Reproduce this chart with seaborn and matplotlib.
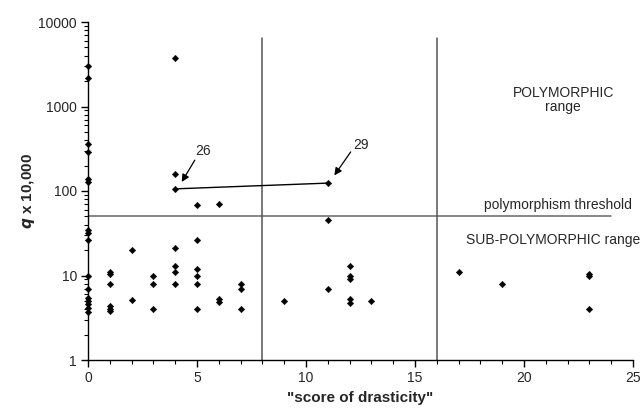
import matplotlib
matplotlib.use("Agg")
import matplotlib.pyplot as plt
import seaborn as sns
import pandas as pd
from matplotlib.ticker import FixedLocator, NullFormatter, LogLocator

sns.set_theme(style="white")
plt.rcParams['font.family'] = ['Liberation Sans', 'DejaVu Sans']

score = [0]*16 + [1]*6 + [2]*2 + [3]*3 + [4]*7 + [5]*6 + [6]*3 + [7]*3 + [9] + [11]*3 + [12]*5 + [13] + [17] + [19] + [23]*3
q = [3000, 2200, 360, 290, 139, 129, 35, 32, 26.5, 10, 7, 5.4, 5, 4.6, 4.1, 3.7,
     11, 10.3, 8, 4.3, 4, 3.8,
     20, 5.1,
     10, 8, 4,
     3800, 158, 106, 21, 13, 11, 8,
     68, 26, 12, 10, 8, 4,
     70, 5.2, 4.85,
     8, 7, 4,
     5,
     124, 45, 7,
     13, 10, 9.1, 5.3, 4.7,
     5,
     11,
     8,
     10.4, 10, 4]

link_x = [4, 11]
link_y = [106, 124]
threshold = 50
range_bounds = [8, 16]

df = pd.DataFrame({"score": score, "q": q})

fig = plt.figure(figsize=(6.4, 4.17), dpi=100)
ax = fig.add_axes([88/640, 1-360/417, (633-88)/640, (360-22)/417])

ax.set_yscale("log")
ax.set_xlim(0, 25)
ax.set_ylim(1, 10000)

# reference lines
ax.plot([0, 24], [threshold, threshold], color="#666666", lw=1.1, zorder=1)
for b in range_bounds:
    ax.plot([b, b], [1, 6500], color="#555555", lw=1.1, zorder=1)
ax.plot(link_x, link_y, color="black", lw=1.0, zorder=2)

sns.scatterplot(data=df, x="score", y="q", marker="D", s=11, color="black",
                edgecolor="black", linewidth=0.3, ax=ax, zorder=3, clip_on=False)

# annotations
arrow_kw = dict(arrowstyle="-|>", color="black", lw=0.9, shrinkA=0, shrinkB=0, mutation_scale=11)
ax.annotate("", xy=(4.3, 128), xytext=(4.9, 232), arrowprops=arrow_kw)
ax.annotate("", xy=(11.3, 153), xytext=(12.05, 290), arrowprops=arrow_kw)
ax.text(5.3, 296, "26", fontsize=10, ha="center", va="center")
ax.text(12.5, 353, "29", fontsize=10, ha="center", va="center")

ax.text(21.8, 1200, "POLYMORPHIC\nrange", ha="center", va="center", fontsize=10, linespacing=1.0)
ax.text(21.55, 68, "polymorphism threshold", ha="center", va="center", fontsize=10)
ax.text(21.35, 26.3, "SUB-POLYMORPHIC range", ha="center", va="center", fontsize=10, clip_on=False)

# axes styling
for side in ["top", "right"]:
    ax.spines[side].set_visible(False)
for side in ["left", "bottom"]:
    ax.spines[side].set_color("black")
    ax.spines[side].set_linewidth(1.0)

ax.set_xticks([0, 5, 10, 15, 20, 25])
ax.xaxis.set_minor_locator(FixedLocator(list(range(26))))
ax.set_yticks([1, 10, 100, 1000, 10000])
ax.set_yticklabels(["1", "10", "100", "1000", "10000"])
ax.yaxis.set_minor_locator(LogLocator(base=10, subs=range(2, 10)))
ax.yaxis.set_minor_formatter(NullFormatter())
ax.tick_params(axis="both", which="major", direction="out", length=5, width=1, color="black",
               labelsize=10, bottom=True, left=True, pad=3)
ax.tick_params(axis="both", which="minor", direction="out", length=3, width=0.8, color="black",
               bottom=True, left=True)

ax.set_xlabel('"score of drasticity"', fontsize=11, fontweight="bold", labelpad=4)
ax.set_ylabel(r"$\bfit{q}$ x 10,000", fontsize=11, fontweight="bold", labelpad=1)

fig.savefig("out.png", dpi=100)
